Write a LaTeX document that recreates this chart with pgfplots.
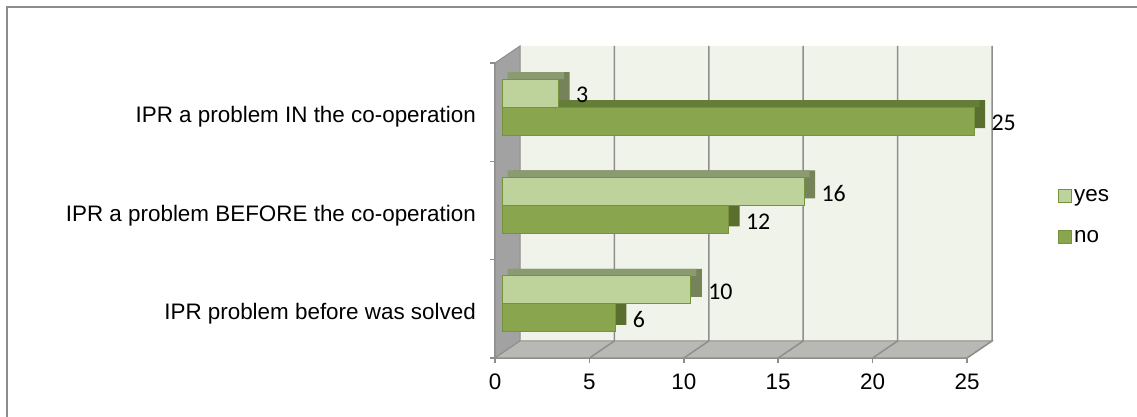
\documentclass[border=0pt]{standalone}
\usepackage{pgfplots}
\pgfplotsset{compat=1.18}
\usepackage{pgfplotstable}
\usepackage{fontspec}
\setmainfont{Liberation Sans}
\newfontfamily\calibri{Carlito}

\definecolor{yesF}{HTML}{BDD39B}
\definecolor{yesT}{HTML}{8B9B70}
\definecolor{yesE}{HTML}{76825A}
\definecolor{noF}{HTML}{89A64E}
\definecolor{noT}{HTML}{647D37}
\definecolor{noE}{HTML}{5A6E2D}
\definecolor{edgeG}{HTML}{76923C}
\definecolor{wallB}{HTML}{F0F3EA}
\definecolor{wallL}{HTML}{A2A2A2}
\definecolor{floorG}{HTML}{B8B9B4}
\definecolor{gridG}{HTML}{8E8E8E}
\definecolor{frameG}{HTML}{8C8C8C}

\pgfplotstableread{
y yes no
0.5 10 6
1.5 16 12
2.5 3 25
}\data

\begin{document}
\begin{tikzpicture}
\useasboundingbox (0,0) rectangle (1137bp,417bp);
\draw[frameG, line width=2bp] (7bp,0) -- (7bp,410bp) -- (1137bp,410bp);
\begin{axis}[
  at={(495bp,59bp)}, anchor=south west,
  scale only axis, width=472bp, height=295bp,
  xmin=0, xmax=25, ymin=0, ymax=3,
  clip=false,
  axis x line*=bottom, axis y line*=left,
  axis line style={draw=gridG, line width=1.5bp, -},
  /pgf/number format/assume math mode=true,
  xtick={0,5,...,25},
  tick align=outside, major tick length=5bp,
  every tick/.style={draw=gridG, line width=1.5bp},
  ytick={0,1,2,3},
  yticklabels={},
  extra y ticks={0.5,1.5,2.5},
  extra y tick labels={IPR problem before was solved, IPR a problem BEFORE the co-operation, IPR a problem IN the co-operation},
  extra y tick style={major tick length=0pt},
  yticklabel style={font=\fontsize{22.5}{27}\selectfont, anchor=east, inner sep=0pt, xshift=-19bp, yshift=-5bp},
  xticklabel style={font=\fontsize{22.5}{27}\selectfont, inner sep=0pt, yshift=-11bp},
  legend style={at={(1.1928,0.4797)}, anchor=west, draw=none, fill=none,
    font=\fontsize{22.5}{27}\selectfont, row sep=23bp, inner sep=0pt,
    nodes={inner sep=2bp}},
  legend cell align=left,
]
% back wall, left wall, floor
\fill[wallB] ([shift={(25bp,17bp)}]axis cs:0,0) rectangle ([shift={(25bp,17bp)}]axis cs:25,3);
\filldraw[fill=wallL, draw=gridG, line width=1bp] (axis cs:0,0) -- ([shift={(25bp,17bp)}]axis cs:0,0) -- ([shift={(25bp,17bp)}]axis cs:0,3) -- (axis cs:0,3) -- cycle;
\filldraw[fill=floorG, draw=gridG, line width=1bp] (axis cs:0,0) -- (axis cs:25,0) -- ([shift={(25bp,17bp)}]axis cs:25,0) -- ([shift={(25bp,17bp)}]axis cs:0,0) -- cycle;
\draw[gridG, line width=1.5bp] (axis cs:5,0) -- ([shift={(25bp,17bp)}]axis cs:5,0) -- ([shift={(25bp,17bp)}]axis cs:5,3);
\draw[gridG, line width=1.5bp] (axis cs:10,0) -- ([shift={(25bp,17bp)}]axis cs:10,0) -- ([shift={(25bp,17bp)}]axis cs:10,3);
\draw[gridG, line width=1.5bp] (axis cs:15,0) -- ([shift={(25bp,17bp)}]axis cs:15,0) -- ([shift={(25bp,17bp)}]axis cs:15,3);
\draw[gridG, line width=1.5bp] (axis cs:20,0) -- ([shift={(25bp,17bp)}]axis cs:20,0) -- ([shift={(25bp,17bp)}]axis cs:20,3);
\draw[gridG, line width=1.5bp] (axis cs:25,0) -- ([shift={(25bp,17bp)}]axis cs:25,0) -- ([shift={(25bp,17bp)}]axis cs:25,3);

% 3D depth of "no" bars
\addplot[xbar, bar width=28bp, bar shift=-9bp, xshift=18bp, yshift=7bp, fill=noE, draw=none, forget plot] table[x=no, y=y] {\data};
\addplot[xbar, bar width=7bp, bar shift=8.5bp, xshift=12.5bp, fill=noT, draw=none, forget plot] table[x=no, y=y] {\data};
% 3D depth of "yes" bars
\addplot[xbar, bar width=28bp, bar shift=19bp, xshift=18bp, yshift=7bp, fill=yesE, draw=none, forget plot] table[x=yes, y=y] {\data};
\addplot[xbar, bar width=7bp, bar shift=36.5bp, xshift=12.5bp, fill=yesT, draw=none, forget plot] table[x=yes, y=y] {\data};

% front faces
\addplot[xbar, bar width=28bp, bar shift=19bp, xshift=7bp, fill=yesF, draw=edgeG, line width=1bp,
  nodes near coords,
  every node near coord/.append style={font=\calibri\fontsize{24}{28}\selectfont, anchor=west, inner sep=0pt, xshift=17bp, yshift=17bp, text=black},
  legend image code/.code={\draw[fill=yesF, draw=edgeG, line width=1bp] (0bp,-6.5bp) rectangle (13bp,6.5bp);}]
  table[x=yes, y=y] {\data};
\addlegendentry{yes}
\addplot[xbar, bar width=28bp, bar shift=-9bp, xshift=7bp, fill=noF, draw=edgeG, line width=1bp,
  nodes near coords,
  every node near coord/.append style={font=\calibri\fontsize{24}{28}\selectfont, anchor=west, inner sep=0pt, xshift=17bp, yshift=-11bp, text=black},
  legend image code/.code={\draw[fill=noF, draw=edgeG, line width=1bp] (0bp,-6.5bp) rectangle (13bp,6.5bp);}]
  table[x=no, y=y] {\data};
\addlegendentry{no}
\end{axis}
\end{tikzpicture}
\end{document}
